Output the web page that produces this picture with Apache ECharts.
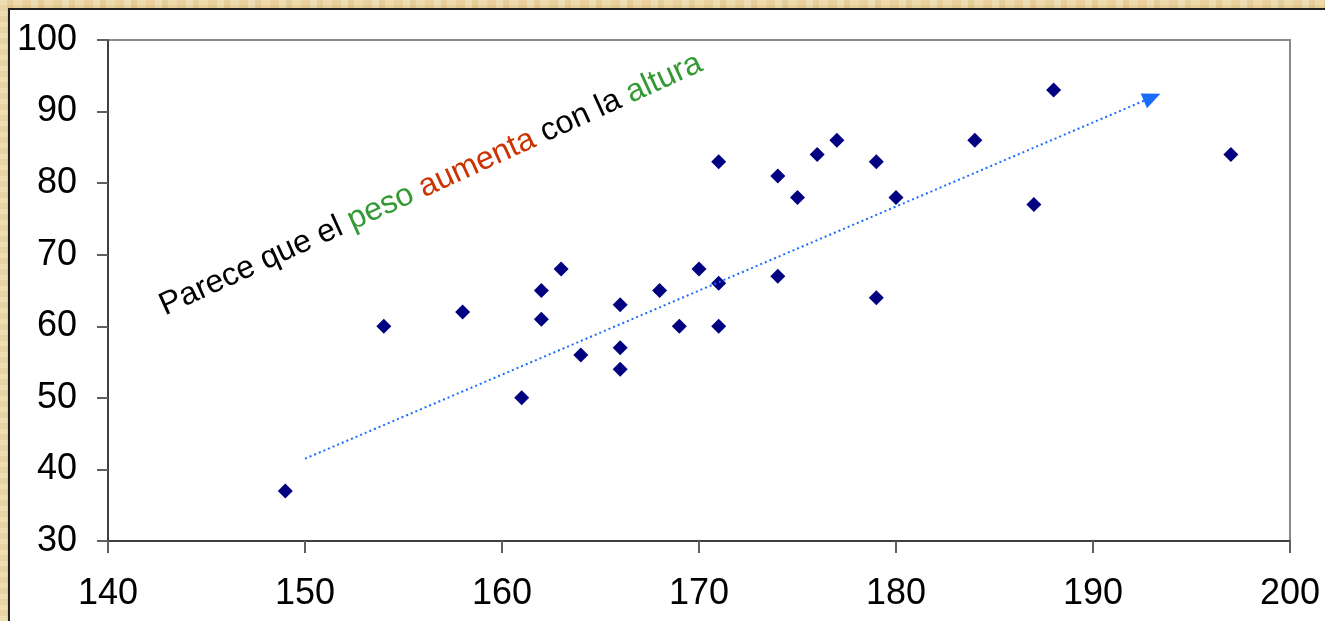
<!DOCTYPE html>
<html>
<head>
<meta charset="utf-8">
<script src="https://cdn.jsdelivr.net/npm/echarts@6/dist/echarts.min.js"></script>
<style>
  html, body { margin: 0; padding: 0; width: 1325px; height: 621px; overflow: hidden; }
  body {
    background-color: #e8d09a;
    background-image:
      repeating-linear-gradient(90deg, rgba(255,255,255,0.18) 0 7px, rgba(180,140,70,0.10) 7px 13px, rgba(255,245,210,0.15) 13px 22px, rgba(200,160,90,0.08) 22px 31px),
      repeating-linear-gradient(0deg, rgba(255,250,220,0.15) 0 5px, rgba(190,150,80,0.10) 5px 11px);
  }
  #panel {
    position: absolute; left: 8px; top: 8px; width: 1330px; height: 620px;
    background: #fff;
    border-top: 2px solid #222; border-left: 2px solid #222;
    box-sizing: border-box;
  }
  #chart { position: absolute; left: 0; top: 0; width: 1325px; height: 621px; }
</style>
</head>
<body>
<div id="panel"></div>
<div id="chart"></div>
<script>
// Altura (cm) y peso (kg) de cada persona
const altura = [149, 154, 158, 161, 162, 162, 163, 164, 166, 166, 166, 168, 169, 170, 171, 171, 171, 174, 174, 175, 176, 177, 179, 179, 180, 184, 187, 188, 197];
const peso   = [ 37,  60,  62,  50,  65,  61,  68,  56,  63,  57,  54,  65,  60,  68,  83,  66,  60,  81,  67,  78,  84,  86,  83,  64,  78,  86,  77,  93,  84];

// Tendencia: flecha punteada
const tendenciaX = [150, 193];
const tendenciaY = [41.5, 92];

// Ejes
const xMin = 140, xMax = 200, xStep = 10;
const yMin = 30, yMax = 100, yStep = 10;

const FONT = 'Liberation Sans, Arial, sans-serif';
const chart = echarts.init(document.getElementById('chart'), null, { renderer: 'canvas' });

const puntos = altura.map((a, i) => [a, peso[i]]);

chart.setOption({
  backgroundColor: 'transparent',
  animation: false,
  grid: {
    left: 108, top: 40, right: 35, bottom: 80,
    show: true, borderColor: '#8a8a8a', borderWidth: 2, backgroundColor: 'transparent'
  },
  xAxis: {
    type: 'value', min: xMin, max: xMax, interval: xStep,
    axisLine: { show: true, onZero: false, lineStyle: { color: '#404040', width: 2 } },
    axisTick: { show: true, inside: false, length: 12, lineStyle: { color: '#606060', width: 2 } },
    axisLabel: { color: '#000', fontFamily: FONT, fontSize: 36, margin: 35 },
    splitLine: { show: false }
  },
  yAxis: {
    type: 'value', min: yMin, max: yMax, interval: yStep,
    axisLine: { show: true, onZero: false, lineStyle: { color: '#404040', width: 2 } },
    axisTick: { show: true, inside: false, length: 11, lineStyle: { color: '#606060', width: 2 } },
    axisLabel: { color: '#000', fontFamily: FONT, fontSize: 36, margin: 31 },
    splitLine: { show: false }
  },
  series: [{
    type: 'scatter',
    data: puntos,
    symbol: 'diamond',
    symbolSize: 15,
    itemStyle: { color: '#000080', opacity: 1 },
    markLine: {
      silent: true,
      animation: false,
      symbol: ['none', 'triangle'],
      symbolSize: [16, 18],
      label: { show: false },
      lineStyle: { color: '#1a6cff', type: [2, 3], width: 2 },
      data: [[
        { coord: [tendenciaX[0], tendenciaY[0]], symbol: 'none' },
        { coord: [tendenciaX[1], tendenciaY[1]], symbol: 'triangle' }
      ]]
    }
  }],
  graphic: [{
    type: 'text',
    x: 168, y: 322,
    rotation: 24.5 * Math.PI / 180,
    style: {
      text: '{n|Parece que el }{g|peso }{r|aumenta }{n|con la }{g|altura}',
      font: '32px ' + FONT,
      textVerticalAlign: 'bottom',
      rich: {
        n: { fill: '#000', fontSize: 32, fontFamily: FONT },
        g: { fill: '#339933', fontSize: 32, fontFamily: FONT },
        r: { fill: '#cc3300', fontSize: 32, fontFamily: FONT }
      }
    }
  }]
});
</script>
</body>
</html>
